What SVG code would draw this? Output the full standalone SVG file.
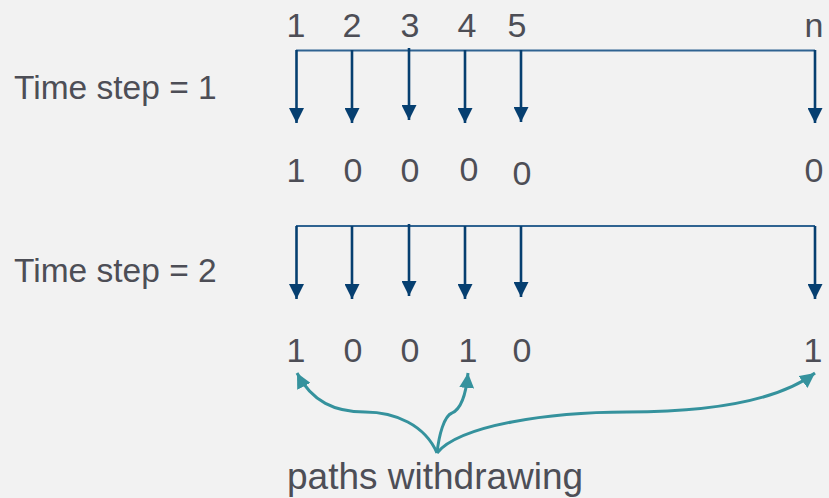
<svg xmlns="http://www.w3.org/2000/svg" width="829" height="498" viewBox="0 0 829 498">
  <defs>
    <marker id="headBlue" viewBox="0 0 10 10" refX="10" refY="5" markerWidth="15" markerHeight="15" markerUnits="userSpaceOnUse" orient="auto">
      <path d="M0,0 L10,5 L0,10 Z" fill="#063f70"/>
    </marker>
    <marker id="headTeal" viewBox="0 0 10 10" refX="10" refY="5" markerWidth="15" markerHeight="15" markerUnits="userSpaceOnUse" orient="auto">
      <path d="M0,0 L10,5 L0,10 Z" fill="#35929d"/>
    </marker>
  </defs>
  <style>
    .lbl { font-family: "Liberation Sans", Arial, sans-serif; fill: #4d4e56; }
    .side { font-size: 33.5px; }
    .num { font-size: 34px; text-anchor: middle; }
    .caption { font-size: 37px; }
    .bar { stroke: #2f6391; stroke-width: 2; fill: none; }
    .drop { stroke: #063f70; stroke-width: 2.6; fill: none; marker-end: url(#headBlue); }
    .pick { stroke: #35929d; stroke-width: 3; fill: none; marker-end: url(#headTeal); }
  </style>
  <rect width="829" height="498" fill="#f2f2f2"/>

  <!-- path indices -->
  <g id="indices" class="lbl num">
    <text x="296" y="37">1</text>
    <text x="352" y="37">2</text>
    <text x="410" y="37">3</text>
    <text x="467" y="37">4</text>
    <text x="517" y="37">5</text>
    <text x="814" y="37">n</text>
  </g>

  <!-- time step labels -->
  <g id="step1-label"><text class="lbl side" x="14" y="99">Time step = 1</text></g>
  <g id="step2-label"><text class="lbl side" x="14" y="282">Time step = 2</text></g>

  <!-- distribution rails -->
  <g id="connectors">
    <path class="bar" d="M296,50.5 H815"/>
    <path class="drop" d="M296.5,50 V123"/>
    <path class="drop" d="M352,50 V123"/>
    <path class="drop" d="M409,48 V120"/>
    <path class="drop" d="M465,50 V123"/>
    <path class="drop" d="M521,50 V122"/>
    <path class="drop" d="M815,50 V123"/>

    <path class="bar" d="M296,226 H815"/>
    <path class="drop" d="M296.5,226 V299"/>
    <path class="drop" d="M352,226 V299"/>
    <path class="drop" d="M409,224 V296"/>
    <path class="drop" d="M465,226 V299"/>
    <path class="drop" d="M521,226 V297"/>
    <path class="drop" d="M815,226 V299"/>

    <!-- withdrawn paths -->
    <path class="pick" d="M437,453 C425,425 395,412 365,412 C335,412 312,402 297,373"/>
    <path class="pick" d="M437,453 C439,435 444,416 452,413 C461,409 466,395 468,373"/>
    <path class="pick" d="M437,453 C460,425 550,412 627,412 C705,412 775,403 815,373"/>
  </g>

  <!-- values at step 1 -->
  <g id="values1" class="lbl num">
    <text x="296" y="182">1</text>
    <text x="353" y="182">0</text>
    <text x="410" y="182">0</text>
    <text x="469" y="181">0</text>
    <text x="522" y="185">0</text>
    <text x="814" y="182">0</text>
  </g>

  <!-- values at step 2 -->
  <g id="values2" class="lbl num">
    <text x="296" y="362">1</text>
    <text x="353" y="362">0</text>
    <text x="410" y="362">0</text>
    <text x="468" y="362">1</text>
    <text x="522" y="362">0</text>
    <text x="813" y="362">1</text>
  </g>

  <g id="caption"><text class="lbl caption" x="287" y="489">paths withdrawing</text></g>
</svg>
